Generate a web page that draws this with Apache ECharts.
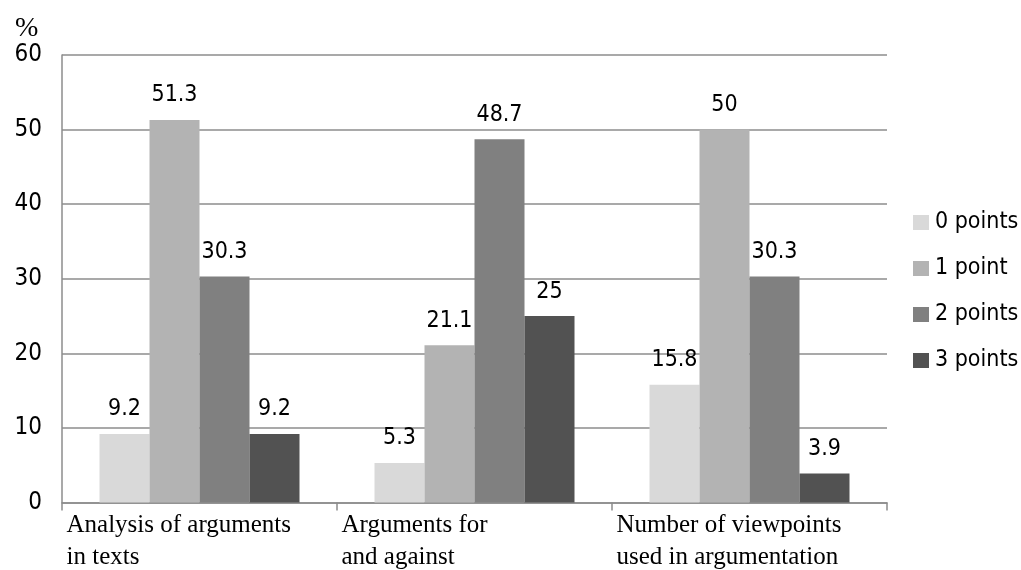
<!DOCTYPE html>
<html><head><meta charset="utf-8">
<script src="https://cdn.jsdelivr.net/npm/echarts@6/dist/echarts.min.js"></script>
<style>html,body{margin:0;padding:0;background:#fff}#c{width:1021px;height:570px}</style>
</head><body><div id="c"></div>
<script>
var categories = ['Analysis of arguments\nin texts', 'Arguments for\nand against', 'Number of viewpoints\nused in argumentation'];
var seriesNames = ['0 points', '1 point', '2 points', '3 points'];
var points0 = [9.2, 5.3, 15.8];
var points1 = [51.3, 21.1, 50];
var points2 = [30.3, 48.7, 30.3];
var points3 = [9.2, 25, 3.9];
var yTicks = [0, 10, 20, 30, 40, 50, 60];
var colors = ['#d9d9d9', '#b3b3b3', '#808080', '#525252'];
var allData = [points0, points1, points2, points3];
var sans = '"DejaVu Sans Condensed", "DejaVu Sans", sans-serif';
var serif = '"Liberation Serif", "DejaVu Serif", serif';

var chart = echarts.init(document.getElementById('c'));
chart.setOption({
  animation: false,
  backgroundColor: '#fff',
  title: { text: '%', left: 15, top: 15, padding: 0, textStyle: { fontFamily: serif, fontSize: 28, fontWeight: 'normal', color: '#000' } },
  grid: { left: 62, right: 134, top: 55, bottom: 65 },
  legend: {
    orient: 'vertical', left: 913, top: 211, padding: 0,
    itemWidth: 16, itemHeight: 15, itemGap: 23,
    icon: 'rect',
    textStyle: { fontFamily: sans, fontSize: 23, color: '#000', padding: [0, 0, 0, 1] },
    data: seriesNames
  },
  xAxis: {
    type: 'category', data: categories,
    axisLine: { lineStyle: { color: '#8c8c8c', width: 1.5 } },
    axisTick: { show: true, length: 8, lineStyle: { color: '#8c8c8c', width: 1.5 } },
    axisLabel: {
      interval: 0, margin: 7,
      formatter: function (v) { return '{a|' + v + '}'; },
      rich: { a: { width: 266, align: 'left', fontFamily: serif, fontSize: 25, lineHeight: 32, color: '#000' } }
    }
  },
  yAxis: {
    type: 'value', min: yTicks[0], max: yTicks[yTicks.length - 1], interval: 10,
    axisLine: { show: true, lineStyle: { color: '#8c8c8c', width: 1.5 } },
    axisTick: { show: false },
    splitLine: { lineStyle: { color: '#8c8c8c', width: 1.5 } },
    axisLabel: { margin: 20, fontFamily: sans, fontSize: 24, color: '#000' }
  },
  series: allData.map(function (d, i) {
    return {
      name: seriesNames[i], type: 'bar', data: d,
      barWidth: 50, barGap: '0%',
      itemStyle: { color: colors[i] },
      label: { show: true, position: 'top', distance: 13, fontFamily: sans, fontSize: 23, color: '#000' }
    };
  })
});
</script></body></html>
